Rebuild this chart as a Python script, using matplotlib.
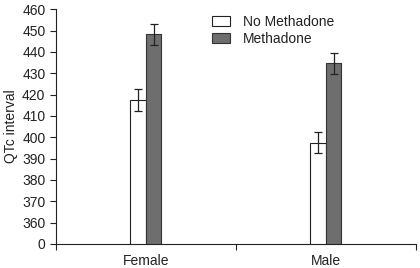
import numpy as np
import matplotlib.pyplot as plt

plt.rcParams["font.family"] = ["Liberation Sans", "DejaVu Sans"]

groups = ["Female", "Male"]
no_methadone = [417.4, 397.4]
no_methadone_err = [5.0, 5.0]
methadone = [448.3, 434.6]
methadone_err = [5.0, 5.0]

yticks = [350, 360, 370, 380, 390, 400, 410, 420, 430, 440, 450, 460]
ytick_labels = ["0"] + [str(t) for t in yticks[1:]]

fig = plt.figure(figsize=(4.2, 2.68), dpi=100)
ax = fig.add_axes([0.133, 0.0896, 0.857, 0.876])

x = np.arange(len(groups)) + 0.5
w = 0.086
ax.bar(x - w / 2, no_methadone, w, yerr=no_methadone_err, color="white",
       edgecolor="#222222", linewidth=0.8, capsize=3,
       error_kw=dict(elinewidth=0.9, capthick=0.9, ecolor="#222222"),
       label="No Methadone")
ax.bar(x + w / 2, methadone, w, yerr=methadone_err, color="#6e6e6e",
       edgecolor="#333333", linewidth=0.8, capsize=3,
       error_kw=dict(elinewidth=0.9, capthick=0.9, ecolor="#222222"),
       label="Methadone")

ax.set_xlim(0, 2)
ax.set_ylim(350, 460)
ax.set_yticks(yticks)
ax.set_yticklabels(ytick_labels)
ax.set_xticks([0, 1, 2])
ax.set_xticklabels([])
ax.set_xticks(x, minor=True)
ax.set_xticklabels(groups, minor=True)
ax.tick_params(axis="x", which="minor", length=0, pad=7)
ax.tick_params(axis="both", which="major", length=4, width=0.8, colors="#222222", labelsize=10)
ax.tick_params(axis="x", which="minor", labelsize=10, labelcolor="#222222")

for s in ["top", "right"]:
    ax.spines[s].set_visible(False)
for s in ["left", "bottom"]:
    ax.spines[s].set_linewidth(0.8)
    ax.spines[s].set_color("#222222")

ax.set_ylabel("QTc interval", fontsize=10, color="#222222", labelpad=3)

ax.legend(loc="upper left", bbox_to_anchor=(0.40, 1.03), frameon=False,
          fontsize=10, handlelength=1.3, handleheight=0.75, handletextpad=0.9,
          labelspacing=0.25, labelcolor="#222222")

fig.savefig("out.png", dpi=100)
